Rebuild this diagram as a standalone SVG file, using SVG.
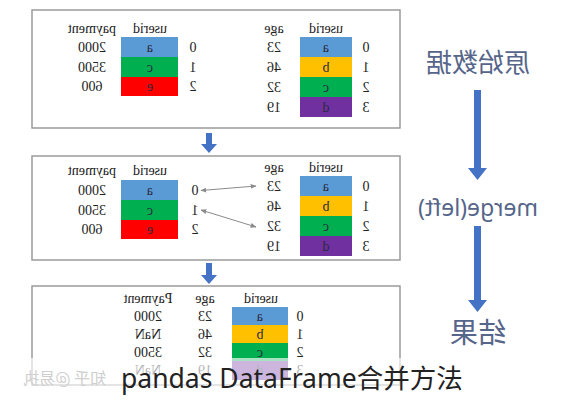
<svg xmlns="http://www.w3.org/2000/svg" width="574" height="400" viewBox="0 0 574 400">
<defs>
<style>
.panel{fill:#fff;stroke:#9a9a9a;stroke-width:1.5}
.t{font-family:"Liberation Serif",serif;font-size:14px;fill:#222;text-anchor:middle}
.c{font-family:"Liberation Serif",serif;font-size:14px;fill:#2a2a40;text-anchor:middle}
.blue{fill:#5B9BD5}.yel{fill:#FFC000}.grn{fill:#00B050}.pur{fill:#7030A0}.red{fill:#FF0000}
.side{font-family:"Noto Sans","Noto Sans CJK SC",sans-serif;fill:#56658a;text-anchor:middle}
.bar{fill:#4472C4}
.link{stroke:#8a8a8a;stroke-width:1;fill:none;marker-start:url(#ah);marker-end:url(#ah)}
</style>
<marker id="ah" viewBox="0 0 10 10" refX="9" refY="5" markerWidth="6" markerHeight="6" orient="auto-start-reverse"><path d="M0,1 L10,5 L0,9 z" fill="#8a8a8a"/></marker>
</defs>
<rect width="574" height="400" fill="#fff"/>
<g transform="matrix(-1 0 0 1 574 0)">
<g id="panel1">
<rect class="panel" x="174" y="10" width="368" height="118"/>
<text class="t" x="424" y="33">userid</text><text class="t" x="482" y="33">payment</text>
<rect class="blue" x="396" y="37" width="57" height="20"/><rect class="grn" x="396" y="57" width="57" height="20"/><rect class="red" x="396" y="77" width="57" height="19"/>
<text class="c" x="424" y="52">a</text><text class="c" x="424" y="72">c</text><text class="c" x="424" y="91">e</text>
<text class="t" x="381" y="52">0</text><text class="t" x="381" y="72">1</text><text class="t" x="381" y="91">2</text>
<text class="t" x="482" y="52">2000</text><text class="t" x="482" y="72">3500</text><text class="t" x="482" y="91">600</text>
<text class="t" x="248" y="33">userid</text><text class="t" x="300" y="33">age</text>
<rect class="blue" x="222" y="37" width="52" height="20"/><rect class="yel" x="222" y="57" width="52" height="20"/><rect class="grn" x="222" y="77" width="52" height="20"/><rect class="pur" x="222" y="97" width="52" height="20"/>
<text class="c" x="248" y="52">a</text><text class="c" x="248" y="72">b</text><text class="c" x="248" y="92">c</text><text class="c" x="248" y="112">d</text>
<text class="t" x="208" y="52">0</text><text class="t" x="208" y="72">1</text><text class="t" x="208" y="92">2</text><text class="t" x="208" y="112">3</text>
<text class="t" x="300" y="52">23</text><text class="t" x="300" y="72">46</text><text class="t" x="300" y="92">32</text><text class="t" x="300" y="112">19</text>
</g>
<g id="panel2">
<rect class="panel" x="174" y="156" width="368" height="104"/>
<text class="t" x="424" y="175">userid</text><text class="t" x="482" y="175">payment</text>
<rect class="blue" x="396" y="180" width="57" height="20"/><rect class="grn" x="396" y="200" width="57" height="20"/><rect class="red" x="396" y="220" width="57" height="19"/>
<text class="c" x="424" y="195">a</text><text class="c" x="424" y="215">c</text><text class="c" x="424" y="234">e</text>
<text class="t" x="379" y="195">0</text><text class="t" x="379" y="215">1</text><text class="t" x="379" y="234">2</text>
<text class="t" x="482" y="195">2000</text><text class="t" x="482" y="215">3500</text><text class="t" x="482" y="234">600</text>
<text class="t" x="248" y="172">userid</text><text class="t" x="300" y="172">age</text>
<rect class="blue" x="222" y="176" width="52" height="20"/><rect class="yel" x="222" y="196" width="52" height="20"/><rect class="grn" x="222" y="216" width="52" height="20"/><rect class="pur" x="222" y="236" width="52" height="20"/>
<text class="c" x="248" y="191">a</text><text class="c" x="248" y="211">b</text><text class="c" x="248" y="231">c</text><text class="c" x="248" y="251">d</text>
<text class="t" x="208" y="191">0</text><text class="t" x="208" y="211">1</text><text class="t" x="208" y="231">2</text><text class="t" x="208" y="251">3</text>
<text class="t" x="300" y="191">23</text><text class="t" x="300" y="211">46</text><text class="t" x="300" y="231">32</text><text class="t" x="300" y="251">19</text>
</g>
<g id="panel3">
<rect class="panel" x="174" y="286" width="368" height="99"/>
<text class="t" x="313" y="303">userid</text><text class="t" x="369" y="303">age</text><text class="t" x="426" y="303">Payment</text>
<rect class="blue" x="286" y="307" width="56" height="18"/><rect class="yel" x="286" y="325" width="56" height="18"/><rect class="grn" x="286" y="343" width="56" height="18"/><rect class="pur" x="286" y="361" width="56" height="19"/>
<text class="c" x="314" y="321">a</text><text class="c" x="314" y="339">b</text><text class="c" x="314" y="357">c</text><text class="c" x="314" y="375">d</text>
<text class="t" x="274" y="321">0</text><text class="t" x="274" y="339">1</text><text class="t" x="274" y="357">2</text><text class="t" x="274" y="375">3</text>
<text class="t" x="369" y="321">23</text><text class="t" x="369" y="339">46</text><text class="t" x="369" y="357">32</text><text class="t" x="369" y="375">19</text>
<text class="t" x="426" y="321">2000</text><text class="t" x="426" y="339">NaN</text><text class="t" x="426" y="357">3500</text><text class="t" x="426" y="375">NaN</text>
</g>
<g id="connectors">
<path class="link" d="M373,190.5 L318,186"/>
<path class="link" d="M373,210 L318,227"/>
<path class="bar" d="M362,133 h6 v11 h5 l-8,9 l-8,-9 h5 z"/>
<path class="bar" d="M362,263 h6 v12 h5 l-8,9 l-8,-9 h5 z"/>
<path class="bar" d="M93,90 h7 v78 h6 l-9.5,12 l-9.5,-12 h6 z"/>
<path class="bar" d="M93,226 h7 v74 h6 l-9.5,12 l-9.5,-12 h6 z"/>
</g>
<g id="side-labels">
<text class="side" x="96" y="72" font-size="26">原始数据</text>
<text class="side" x="96" y="216" font-size="23">merge(left)</text>
<text class="side" x="96" y="343" font-size="28">结果</text>
</g>
</g>
<rect x="0" y="358" width="574" height="42" fill="#fff" opacity="0.65"/>
<g transform="matrix(-1 0 0 1 574 0)">
<text x="468" y="384" font-family="'Noto Sans CJK SC',sans-serif" font-size="16" fill="#cfcfcf">知乎 @易执</text>
</g>
<text id="caption" x="121" y="388" font-family="'Noto Sans','Noto Sans CJK SC',sans-serif" font-size="26.5" fill="#222">pandas DataFrame合并方法</text>
</svg>
